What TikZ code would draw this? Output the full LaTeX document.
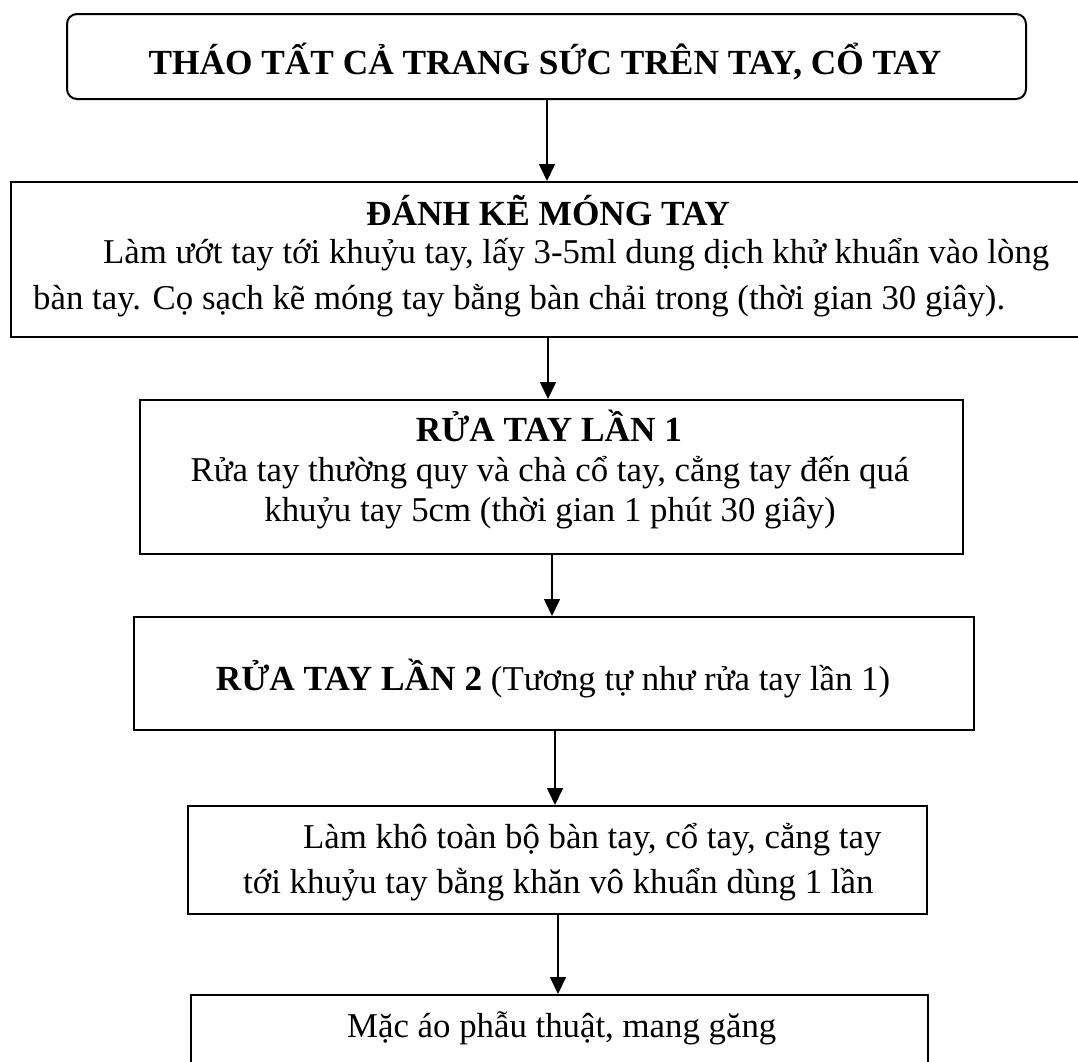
\documentclass[tikz,border=0pt]{standalone}
\usepackage{fontspec}
\setmainfont{Liberation Serif}
\usetikzlibrary{arrows.meta}
\begin{document}
\begin{tikzpicture}[x=1pt,y=-1pt,
  box/.style={draw, line width=2pt, inner sep=0pt, anchor=north west},
  txt/.style={inner sep=0pt, font=\fontsize{34.8}{40}\selectfont},
  btxt/.style={inner sep=0pt, font=\fontsize{35.3}{40}\selectfont\bfseries},
  arr/.style={line width=1.6pt, -{Triangle[width=16pt,length=17pt]}}]
\useasboundingbox (0,0) rectangle (1078,1061);
\fill[white] (0,0) rectangle (1078,1061);
\begin{scope}
\clip (0,0) rectangle (1078,1061);
% boxes
\node[box, rounded corners=10pt, minimum width=959pt, minimum height=85pt] (b1) at (66,13) {};
\node[box, minimum width=1090pt, minimum height=155pt] (b2) at (10,181) {};
\node[box, minimum width=823pt, minimum height=154pt] (b3) at (139,399) {};
\node[box, minimum width=840pt, minimum height=113pt] (b4) at (133,616) {};
\node[box, minimum width=739pt, minimum height=108pt] (b5) at (187,805) {};
\node[box, minimum width=737pt, minimum height=90pt] (b6) at (190,994) {};
% texts
\node[btxt, anchor=base] (t1) at (545,74) {THÁO TẤT CẢ TRANG SỨC TRÊN TAY, CỔ TAY};
\node[btxt, anchor=base] (t2a) at (548,225) {ĐÁNH KẼ MÓNG TAY};
\node[txt, anchor=base west] (t2b) at (103,263) {Làm ướt tay tới khuỷu tay, lấy 3-5ml dung dịch khử khuẩn vào lòng};
\node[txt, anchor=base west] (t2c) at (33,309) {bàn tay. Cọ sạch kẽ móng tay bằng bàn chải trong (thời gian 30 giây).};
\node[btxt, anchor=base] (t3a) at (549,441) {RỬA TAY LẦN 1};
\node[txt, anchor=base] (t3b) at (550,481) {Rửa tay thường quy và chà cổ tay, cẳng tay đến quá};
\node[txt, anchor=base] (t3c) at (550,521) {khuỷu tay 5cm (thời gian 1 phút 30 giây)};
\node[txt, anchor=base] (t4) at (553,690) {\fontsize{35.3}{40}\selectfont\textbf{RỬA TAY LẦN 2}\fontsize{34.8}{40}\selectfont{} (Tương tự như rửa tay lần 1)};
\node[txt, anchor=base west] (t5a) at (303,848) {Làm khô toàn bộ bàn tay, cổ tay, cẳng tay};
\node[txt, anchor=base west] (t5b) at (243,893) {tới khuỷu tay bằng khăn vô khuẩn dùng 1 lần};
\node[txt, anchor=base west] (t6) at (347,1037) {Mặc áo phẫu thuật, mang găng};
% arrows
\coordinate (c2) at (547,181);
\coordinate (c3) at (548,399);
\coordinate (c4) at (552,616);
\coordinate (c5) at (555,805);
\coordinate (c6) at (558,994);
\draw[arr] (b1.south -| c2) -- (c2);
\draw[arr] (b2.south -| c3) -- (c3);
\draw[arr] (b3.south -| c4) -- (c4);
\draw[arr] (b4.south -| c5) -- (c5);
\draw[arr] (b5.south -| c6) -- (c6);
\end{scope}
\end{tikzpicture}
\end{document}
